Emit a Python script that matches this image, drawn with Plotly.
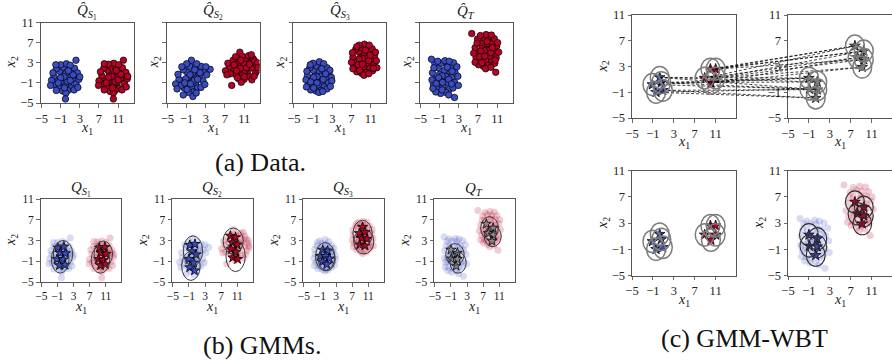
import plotly.graph_objects as go

# ---------------- data ----------------
tick_vals = [-5, -1, 3, 7, 11]

titles_a = ["<i>Q̂</i><sub><i>S</i><sub>1</sub></sub>", "<i>Q̂</i><sub><i>S</i><sub>2</sub></sub>",
            "<i>Q̂</i><sub><i>S</i><sub>3</sub></sub>", "<i>Q̂</i><sub><i>T</i></sub>"]
titles_b = ["<i>Q</i><sub><i>S</i><sub>1</sub></sub>", "<i>Q</i><sub><i>S</i><sub>2</sub></sub>",
            "<i>Q</i><sub><i>S</i><sub>3</sub></sub>", "<i>Q</i><sub><i>T</i></sub>"]
captions = ["(a) Data.", "(b) GMMs.", "(c) GMM-WBT"]

# samples (class 0 = blue, class 1 = red)
s1_blue_x = [0.0,0.8,-0.7,-0.9,0.7,1.5,-1.6,0.1,0.0,1.3,-1.2,-1.4,1.2,2.3,-2.4,2.2,-2.3,0.4,-0.5,0.5,-0.6,1.9,-1.9,2.8,-2.9,0.2,-1.0,1.0,2.5,-2.6,1.8,-1.9,0.1,2.2,3.0,-3.1,0.4,-0.3,1.0,-1.0,0.0,1.6,-1.5,0.6,-0.2,2.6,-2.0]
s1_blue_y = [-0.3,0.4,0.5,-1.0,-1.1,-0.2,-0.4,0.9,-1.5,1.2,1.3,-1.8,-2.0,0.5,0.3,-1.2,-1.3,2.0,2.1,-2.5,-2.6,1.9,1.8,-0.3,-0.5,2.8,2.6,2.5,1.0,1.0,-2.4,-2.5,-3.0,3.5,0.2,-1.5,-0.7,0.2,-0.5,0.0,-4.2,0.6,-1.0,1.4,-2.0,-1.9,2.6]
s1_red_x = [10.0,10.9,9.2,9.0,10.8,11.6,8.4,10.2,9.9,11.4,8.8,8.6,11.2,12.4,7.6,12.3,7.7,10.5,9.4,10.4,9.3,11.9,8.0,12.9,7.0,10.1,9.0,11.1,12.6,7.3,11.8,8.1,10.0,12.1,13.0,6.9,10.4,9.7,11.0,9.0,10.0,11.6,8.5,10.6,9.8,12.7,8.1]
s1_red_y = [-0.2,0.5,0.6,-1.0,-1.0,-0.1,-0.3,1.1,-1.6,1.4,1.5,-1.8,-2.1,0.6,0.4,-1.1,-1.2,2.1,2.3,-2.5,-2.7,2.0,1.9,-0.2,-0.6,2.9,2.7,2.6,1.1,1.2,-2.4,-2.4,-3.0,3.5,0.3,-1.5,-0.7,0.3,-0.4,0.1,-4.2,0.7,-1.0,1.5,-2.0,-1.8,2.8]

s2_blue_x = [0.2,1.0,-0.6,-0.8,0.9,1.8,-1.7,0.3,0.1,1.5,-1.0,-1.5,1.3,2.6,-2.6,2.4,-2.2,0.5,-0.4,0.4,-0.6,2.0,-1.7,3.2,-3.3,0.0,-1.0,1.1,3.9,-2.8,2.0,-1.7,0.3,3.0,-3.0,0.6,-0.3,1.3,-1.2,1.8,-1.4,0.7,-0.2,2.8,-2.0,1.0,-0.9]
s2_blue_y = [-0.4,0.3,0.2,-1.2,-1.0,0.5,-0.6,1.0,-1.8,1.5,1.2,-2.0,-2.0,1.2,-0.3,-0.6,-1.5,2.2,2.3,-2.8,-2.9,2.3,1.6,0.6,-1.2,3.5,2.8,2.8,1.7,0.7,-1.9,-3.4,-3.7,2.2,-2.2,-0.5,0.6,-0.3,-0.2,1.0,-1.0,1.6,-1.2,-1.3,2.2,-3.0,-2.3]
s2_red_x = [10.8,11.8,9.8,9.9,11.7,12.8,8.8,10.9,10.7,12.4,9.5,9.3,12.2,13.6,7.9,13.4,8.1,11.3,10.1,11.0,9.9,12.9,8.7,14.0,7.1,10.6,9.2,11.9,13.2,7.6,12.6,8.4,10.4,13.8,7.4,11.2,10.2,11.5,9.4,12.1,10.3,8.9,13.1,11.0,9.6,12.5,13.9]
s2_red_y = [1.8,2.4,2.3,1.0,1.0,1.9,1.6,2.9,0.6,3.2,3.3,0.6,0.2,2.5,2.2,1.0,0.8,3.9,5.1,-0.3,-0.2,3.8,3.5,1.6,1.4,4.3,4.2,4.4,3.3,2.9,-0.4,-1.5,-0.9,3.0,0.6,1.5,1.9,2.0,1.4,2.7,3.5,2.6,0.3,0.2,0.0,4.6,2.0]

s3_blue_x = [0.2,1.0,-0.6,-0.7,0.9,1.7,-1.4,0.3,0.1,1.4,-1.0,-1.2,1.3,2.3,-2.2,2.2,-2.0,0.6,-0.4,0.6,-0.4,1.9,-1.7,2.8,-2.5,0.3,-1.0,1.2,2.5,-2.3,1.9,-1.5,0.2,2.9,-2.4,0.5,-0.2,1.1,-0.9,1.6,-1.5,0.8,-0.2,2.6,-1.6,1.0,-0.9]
s3_blue_y = [-0.1,0.6,0.5,-0.9,-0.8,0.0,-0.1,1.2,-1.5,1.5,1.5,-1.8,-1.8,0.8,0.4,-1.0,-1.2,2.3,2.4,-2.5,-2.6,2.0,2.0,0.1,-0.4,3.2,2.9,2.8,1.5,1.3,-2.2,-2.4,-2.9,-0.6,-1.8,0.3,0.2,-0.3,0.1,0.8,-0.8,1.8,-1.0,-1.7,2.6,-2.7,-2.0]
s3_red_x = [9.6,10.4,8.9,8.8,10.4,11.2,8.0,9.8,9.6,11.0,8.5,8.3,10.8,11.8,7.3,11.7,7.5,10.1,9.1,10.0,9.1,11.3,7.9,12.2,7.0,9.7,8.6,10.7,12.0,7.2,11.4,8.1,9.6,12.3,7.3,10.0,9.3,10.6,8.6,10.9,8.4,9.9,9.3,11.6,8.1,10.6,8.7]
s3_red_y = [3.6,4.3,4.2,2.8,2.9,3.7,3.4,4.9,2.1,5.2,5.2,1.8,1.8,4.4,4.1,2.6,2.5,5.9,6.0,1.1,0.9,5.8,5.7,3.4,3.1,6.7,6.5,6.5,5.1,5.0,1.4,1.2,0.5,2.0,1.8,3.9,3.8,3.4,3.7,4.5,2.6,5.5,2.7,1.9,6.2,0.8,1.5]

t_blue_x = [-0.2,0.7,-1.0,-1.1,0.6,1.5,-1.9,0.0,-0.3,1.3,-1.3,-1.5,1.0,2.2,-2.5,2.1,-2.3,0.4,-0.7,0.3,-0.8,1.9,-2.0,2.8,-2.6,0.1,-1.4,1.0,2.6,-2.7,1.8,-1.8,2.1,2.9,-2.4,0.3,-0.5,0.9,-1.2,1.6,-1.7,0.6,-0.4,0.9,-2.2,1.5,-0.5]
t_blue_y = [0.0,0.8,0.7,-0.9,-1.0,0.1,-0.2,1.5,-1.7,2.0,2.0,-2.2,-2.3,1.1,1.0,-0.9,-1.2,2.8,2.9,-2.9,-3.1,3.0,2.9,0.3,-0.4,3.4,3.3,3.3,2.2,3.7,-2.0,-2.8,-3.9,-1.5,-2.1,0.3,0.4,-0.3,0.0,1.3,-1.1,2.1,-0.9,-3.4,2.0,-1.2,-2.4]
t_red_x = [8.7,9.5,7.9,7.8,9.5,10.3,7.0,8.9,8.6,10.0,7.5,7.3,9.9,10.9,6.4,10.8,6.6,9.1,8.1,9.0,8.1,10.4,6.9,11.3,6.1,8.7,7.5,9.8,11.1,5.7,10.5,7.1,8.6,10.7,6.4,9.0,8.3,9.7,7.6,10.0,7.4,8.9,8.4,10.6,6.8,9.7,7.8]
t_red_y = [5.2,6.0,5.9,4.4,4.3,5.3,5.0,6.8,3.5,7.1,7.0,3.3,3.2,6.3,6.0,4.0,4.0,7.8,8.0,2.5,2.3,7.8,7.7,5.1,4.9,8.6,8.4,8.5,7.0,8.8,2.9,2.6,1.8,1.1,3.1,5.5,5.4,5.0,5.3,6.0,4.2,7.2,4.3,3.5,6.9,2.1,3.0]

# GMM atoms (stars) and ellipse parameters for panels (b)
g1_blue_x = [-0.9,0.6,-0.3,1.0,-1.1,0.4,-0.5,0.9]
g1_blue_y = [1.6,1.8,0.6,0.5,-0.6,-0.7,-1.8,-1.7]
g1_red_x = [9.4,10.8,9.8,11.1,9.2,10.4,9.7,10.9]
g1_red_y = [1.6,1.7,0.6,0.4,-0.6,-0.8,-1.8,-1.6]
g1_ell_cx = [0.4,-0.3,10.4,9.7]
g1_ell_cy = [0.4,-0.6,0.4,-0.7]
g1_ell_rx = [2.4,2.2,2.3,2.3]
g1_ell_ry = [2.6,2.7,2.5,2.6]

g2_blue_x = [-0.8,0.5,-0.2,0.8,-1.0,0.2,-0.8,0.4]
g2_blue_y = [2.1,2.3,0.9,0.3,-0.6,-1.3,-2.2,-2.8]
g2_red_x = [9.3,10.6,9.8,11.0,9.5,10.7,9.9,11.1]
g2_red_y = [3.9,3.6,2.6,2.2,1.3,0.8,-0.3,-0.6]
g2_ell_cx = [0.0,-0.5,10.0,10.6]
g2_ell_cy = [1.0,-1.9,2.9,0.0]
g2_ell_rx = [2.4,2.3,2.5,2.4]
g2_ell_ry = [2.9,2.8,2.5,3.0]

g3_blue_x = [-0.3,0.9,-0.9,0.4,1.4,-0.4,0.7]
g3_blue_y = [1.2,1.0,0.0,0.0,-0.5,-1.1,-1.6]
g3_red_x = [9.6,8.8,10.2,9.4,10.7,8.9,10.2]
g3_red_y = [5.6,4.4,4.6,3.4,3.3,2.2,2.0]
g3_ell_cx = [0.3,0.7,9.6,9.9]
g3_ell_cy = [-0.1,-0.6,4.3,2.8]
g3_ell_rx = [2.4,2.1,2.4,2.5]
g3_ell_ry = [2.7,2.2,2.6,2.4]

g4_ell_cx = [0.0,0.8,8.6,9.4]
g4_ell_cy = [0.3,-1.3,5.4,3.8]
g4_ell_rx = [2.3,2.0,2.2,2.1]
g4_ell_ry = [2.1,2.0,2.2,2.0]

# GMM-WBT: source atoms, barycenter atoms, transport plan
src_blue_x = [0.3,-1.1,0.6,-0.4,0.9]
src_blue_y = [1.3,0.2,0.5,-1.0,-0.7]
src_red_x = [10.0,11.0,8.9,11.0,10.1]
src_red_y = [2.6,2.6,1.2,1.2,0.4]
bar_blue_x = [-1.0,0.6,-0.9,0.6,0.3]
bar_blue_y = [1.2,0.6,-0.5,-0.6,-1.9]
bar_red_x = [7.8,9.5,8.3,9.5,9.2]
bar_red_y = [6.2,5.4,4.4,4.1,2.9]
atom_rx = [1.8,1.8,1.8,1.8,1.8]
atom_ry = [1.7,1.7,1.7,1.7,1.7]
plan_blue = [(0,0),(0,1),(1,0),(1,2),(2,1),(2,3),(3,2),(3,4),(4,3),(4,4),(0,2),(2,0)]
plan_red = [(0,0),(0,1),(1,1),(1,3),(2,2),(2,0),(3,3),(3,4),(4,4),(4,2),(1,0),(3,1)]

# ---------------- styling / layout ----------------
W, H = 892, 360
FONT = "Liberation Serif, DejaVu Serif, serif"
BLUE, RED = "#3b4cc0", "#b40426"
BLUE_F, RED_F = "rgba(59,76,192,0.2)", "rgba(180,4,38,0.2)"

def aid(n):
    return "" if n == 1 else str(n)

# panel geometry in pixels: (left, width, top, bottom, xrange)
geom = {}
for i, l in enumerate([40.5, 166.5, 293.0, 419.5]):
    geom[i + 1] = (l, 93, 22.5, 103, [-5.2, 14.2])
for i, l in enumerate([40.5, 172.0, 303.0, 434.0]):
    geom[i + 5] = (l, 80.5, 199, 282, [-5.2, 14.8])
CW = 103.5
geom[9] = (632, CW, 15, 118, [-5, 14.8])
geom[10] = (788, CW, 15, 118, [-5, 14.8])
geom[11] = (632, CW, 170.5, 275.5, [-5, 14.8])
geom[12] = (788, CW, 170.5, 275.5, [-5, 14.8])

fig = go.Figure()
layout = dict(template="none", width=W, height=H, margin=dict(l=0, r=0, t=0, b=0, pad=0),
              autosize=False, paper_bgcolor="white", plot_bgcolor="rgba(0,0,0,0)",
              font=dict(family=FONT, color="#222"),
              showlegend=False, shapes=[], annotations=[])

for n, (l, w, t, b, xr) in geom.items():
    common = dict(tickvals=tick_vals, ticks="outside", ticklen=3.5, tickwidth=0.8,
                  tickcolor="#444", showline=True, mirror=True, linecolor="#555",
                  linewidth=1, showgrid=False, zeroline=False, tickangle=0, automargin=False,
                  tickfont=dict(family=FONT, size=11.5 if 5 <= n <= 8 else 12.5, color="#222"),
                  fixedrange=True)
    layout["xaxis" + aid(n)] = dict(common, domain=[l / W, min(1, (l + w) / W)], range=xr,
                                    anchor="y" + aid(n))
    layout["yaxis" + aid(n)] = dict(common, domain=[1 - b / H, 1 - t / H], range=[-5, 11],
                                    anchor="x" + aid(n),
                                    showticklabels=(n not in (2, 3, 4)))
    # axis labels
    layout["annotations"].append(dict(
        text="<i>x</i><sub>1</sub>", x=(l + w / 2) / W, y=1 - (b + 25) / H,
        xref="paper", yref="paper", showarrow=False, xanchor="center", yanchor="middle",
        font=dict(family=FONT, size=14, color="#222")))
    if n != 10:
        off = 12 if n in (2, 3, 4) else 29
        layout["annotations"].append(dict(
            text="<i>x</i><sub>2</sub>", x=(l - off) / W, y=1 - (t + b) / 2 / H,
            xref="paper", yref="paper", showarrow=False, xanchor="center", yanchor="middle",
            textangle=-90, font=dict(family=FONT, size=14, color="#222")))

# titles
for i in range(4):
    l, w, t, b, xr = geom[i + 1]
    layout["annotations"].append(dict(text=titles_a[i], x=(l + w / 2) / W, y=1 - 12 / H,
        xref="paper", yref="paper", showarrow=False, xanchor="center", yanchor="middle",
        font=dict(family=FONT, size=15, color="#222")))
    l, w, t, b, xr = geom[i + 5]
    layout["annotations"].append(dict(text=titles_b[i], x=(l + w / 2) / W, y=1 - 189 / H,
        xref="paper", yref="paper", showarrow=False, xanchor="center", yanchor="middle",
        font=dict(family=FONT, size=15, color="#222")))

for txt, cx, cy in zip(captions, [260, 262, 744], [163, 345, 338]):
    layout["annotations"].append(dict(text=txt, x=cx / W, y=1 - cy / H, xref="paper",
        yref="paper", showarrow=False, xanchor="center", yanchor="middle",
        font=dict(family=FONT, size=26, color="#111")))


def pts(n, x, y, color, size=6.5, line=0.7, symbol="circle", lcolor="black"):
    fig.add_trace(go.Scatter(x=x, y=y, mode="markers", xaxis="x" + aid(n), yaxis="y" + aid(n),
                             marker=dict(color=color, size=size, symbol=symbol,
                                         line=dict(color=lcolor, width=line)),
                             hoverinfo="skip", showlegend=False))


def ellipses(n, cx, cy, rx, ry, color, width):
    for a, b_, c, d in zip(cx, cy, rx, ry):
        layout["shapes"].append(dict(type="circle", xref="x" + aid(n), yref="y" + aid(n),
                                     x0=a - c, x1=a + c, y0=b_ - d, y1=b_ + d,
                                     line=dict(color=color, width=width),
                                     fillcolor="rgba(0,0,0,0)"))


samples = [(s1_blue_x, s1_blue_y, s1_red_x, s1_red_y),
           (s2_blue_x, s2_blue_y, s2_red_x, s2_red_y),
           (s3_blue_x, s3_blue_y, s3_red_x, s3_red_y),
           (t_blue_x, t_blue_y, t_red_x, t_red_y)]

# (a) data
for i, (bx, by, rx_, ry_) in enumerate(samples):
    pts(i + 1, bx, by, BLUE)
    pts(i + 1, rx_, ry_, RED)

# (b) GMMs
gmm_atoms = [(g1_blue_x, g1_blue_y, g1_red_x, g1_red_y),
             (g2_blue_x, g2_blue_y, g2_red_x, g2_red_y),
             (g3_blue_x, g3_blue_y, g3_red_x, g3_red_y),
             (bar_blue_x, bar_blue_y, bar_red_x, bar_red_y)]
gmm_ell = [(g1_ell_cx, g1_ell_cy, g1_ell_rx, g1_ell_ry),
           (g2_ell_cx, g2_ell_cy, g2_ell_rx, g2_ell_ry),
           (g3_ell_cx, g3_ell_cy, g3_ell_rx, g3_ell_ry),
           (g4_ell_cx, g4_ell_cy, g4_ell_rx, g4_ell_ry)]
for i in range(4):
    n = i + 5
    bx, by, rx_, ry_ = samples[i]
    pts(n, bx, by, BLUE_F, size=7, line=0)
    pts(n, rx_, ry_, RED_F, size=7, line=0)
    ax_, ay_, arx, ary = gmm_atoms[i]
    if i < 3:
        pts(n, ax_, ay_, BLUE, size=7.5, line=0.8, symbol="star")
        pts(n, arx, ary, RED, size=7.5, line=0.8, symbol="star")
    else:
        pts(n, ax_ + arx, ay_ + ary, "#8a8a8a", size=7.5, line=0.8, symbol="star")
    ellipses(n, *gmm_ell[i], "#3a3a3a", 1)

# (c) GMM-WBT
GRAYC = "#7d7d7d"
for n in (9, 11):
    ellipses(n, src_blue_x, src_blue_y, atom_rx, atom_ry, GRAYC, 1.5)
    ellipses(n, src_red_x, src_red_y, atom_rx, atom_ry, GRAYC, 1.5)
    pts(n, src_blue_x, src_blue_y, BLUE, size=8, line=0.8, symbol="star")
    pts(n, src_red_x, src_red_y, RED, size=8, line=0.8, symbol="star")
ellipses(10, bar_blue_x, bar_blue_y, atom_rx, atom_ry, GRAYC, 1.5)
ellipses(10, bar_red_x, bar_red_y, atom_rx, atom_ry, GRAYC, 1.5)
pts(10, bar_blue_x + bar_red_x, bar_blue_y + bar_red_y, "#808080", size=8, line=0.8, symbol="star")

pts(12, t_blue_x, t_blue_y, BLUE_F, size=7, line=0)
pts(12, t_red_x, t_red_y, RED_F, size=7, line=0)
ellipses(12, bar_blue_x, bar_blue_y, atom_rx, atom_ry, "#2e2e2e", 1.1)
ellipses(12, bar_red_x, bar_red_y, atom_rx, atom_ry, "#2e2e2e", 1.1)
pts(12, bar_blue_x, bar_blue_y, BLUE, size=8, line=0.8, symbol="star")
pts(12, bar_red_x, bar_red_y, RED, size=8, line=0.8, symbol="star")

# helper axis spanning both top (c) panels for the transport lines
l9, w9, t9, b9, xr9 = geom[9]
l10 = geom[10][0]
span = xr9[1] - xr9[0]
shift = (l10 - l9) / w9 * span
hx_max = xr9[0] + (l10 + w9 - l9) / w9 * span
layout["xaxis13"] = dict(domain=[l9 / W, min(1, (l10 + w9) / W)], range=[xr9[0], hx_max],
                         visible=False, anchor="y13", fixedrange=True, automargin=False)
layout["yaxis13"] = dict(domain=[1 - b9 / H, 1 - t9 / H], range=[-5, 11], visible=False,
                         anchor="x13", fixedrange=True, automargin=False)
lx, ly = [], []
for (i, j) in plan_blue:
    lx += [src_blue_x[i], bar_blue_x[j] + shift, None]
    ly += [src_blue_y[i], bar_blue_y[j], None]
for (i, j) in plan_red:
    lx += [src_red_x[i], bar_red_x[j] + shift, None]
    ly += [src_red_y[i], bar_red_y[j], None]
fig.add_trace(go.Scatter(x=lx, y=ly, mode="lines", xaxis="x13", yaxis="y13",
                         line=dict(color="rgba(0,0,0,0.9)", width=0.8, dash="3px,2px"),
                         hoverinfo="skip", showlegend=False))

fig.update_layout(**layout)
fig.write_html("out.html", config={"displayModeBar": False, "staticPlot": True},
               post_script="document.body.style.margin='0px';document.body.style.padding='0px';")
